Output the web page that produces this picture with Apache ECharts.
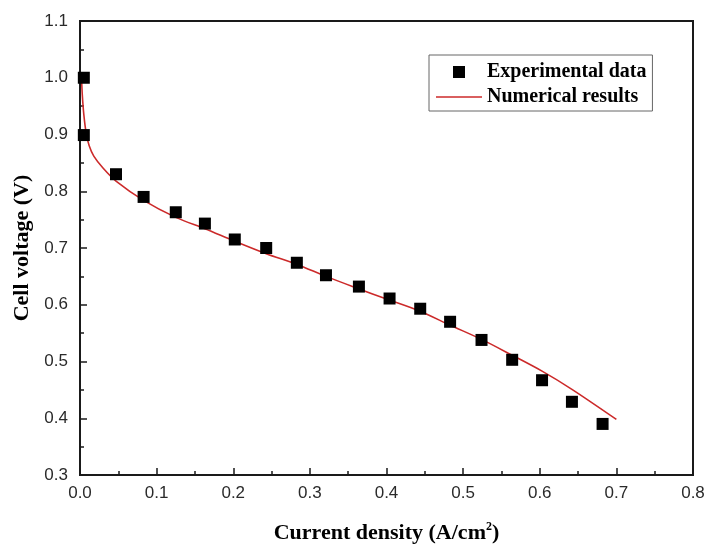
<!DOCTYPE html>
<html>
<head>
<meta charset="utf-8">
<script src="https://cdn.jsdelivr.net/npm/echarts@6/dist/echarts.min.js"></script>
<style>
  html, body { margin: 0; padding: 0; background: #fff; }
  #chart { width: 705px; height: 548px; }
</style>
</head>
<body>
<div id="chart"></div>
<script>
// Polarization curve: measured cell voltage vs. model prediction
const expCurrent = [0.005, 0.005, 0.047, 0.083, 0.125, 0.163, 0.202, 0.243, 0.283, 0.321, 0.364, 0.404, 0.444, 0.483, 0.524, 0.564, 0.603, 0.642, 0.682];
const expVoltage = [1.000, 0.899, 0.830, 0.790, 0.763, 0.743, 0.715, 0.700, 0.674, 0.652, 0.632, 0.611, 0.593, 0.570, 0.538, 0.503, 0.467, 0.429, 0.390];

const numCurrent = [0.002, 0.003, 0.005, 0.008, 0.012, 0.018, 0.030, 0.047, 0.083, 0.125, 0.163, 0.202, 0.243, 0.283, 0.321, 0.360, 0.400, 0.443, 0.483, 0.524, 0.564, 0.603, 0.642, 0.700];
const numVoltage = [1.000, 0.970, 0.935, 0.903, 0.880, 0.862, 0.841, 0.818, 0.784, 0.754, 0.734, 0.712, 0.690, 0.671, 0.650, 0.630, 0.610, 0.589, 0.564, 0.539, 0.511, 0.483, 0.451, 0.398];

const seriesNames = ['Experimental data', 'Numerical results'];

const expPairs = expCurrent.map((x, i) => [x, expVoltage[i]]);
const numPairs = numCurrent.map((x, i) => [x, numVoltage[i]]);

const sansFont = '"Liberation Sans", Arial, sans-serif';
const serifFont = '"Liberation Serif", "Times New Roman", serif';
const axisColor = '#1a1a1a';
const curveColor = '#cc2a2a';

const chart = echarts.init(document.getElementById('chart'), null, { renderer: 'canvas' });

chart.setOption({
  animation: false,
  backgroundColor: '#fff',
  grid: {
    left: 80, right: 12, top: 21, bottom: 73,
    outerBoundsMode: 'none',
    show: true, borderColor: axisColor, borderWidth: 2, backgroundColor: 'transparent'
  },
  legend: {
    orient: 'vertical',
    left: 429, top: 55,
    padding: [7, 6, 4, 7],
    itemGap: 5,
    itemWidth: 46, itemHeight: 12,
    borderColor: '#666', borderWidth: 1,
    symbolKeepAspect: true,
    textStyle: { fontFamily: serifFont, fontWeight: 'bold', fontSize: 20, color: '#000' },
    data: [
      { name: seriesNames[0], icon: 'path://M0,0L10,0L10,10L0,10Z' },
      { name: seriesNames[1], icon: 'path://M0,0L46,0L46,1.7L0,1.7Z' }
    ]
  },
  xAxis: {
    type: 'value',
    min: 0, max: 0.8, interval: 0.1,
    name: 'Current density (A/cm{sup|2})',
    nameLocation: 'middle',
    nameGap: 46,
    nameTextStyle: {
      fontFamily: serifFont, fontWeight: 'bold', fontSize: 22, color: '#000',
      rich: { sup: { fontFamily: serifFont, fontWeight: 'bold', fontSize: 12, color: '#000', verticalAlign: 'top', padding: [0, 0, 12, 0] } }
    },
    axisLine: { show: true, lineStyle: { color: axisColor, width: 2 } },
    axisTick: { show: true, inside: true, length: 7, lineStyle: { color: axisColor, width: 1.5 } },
    minorTick: { show: true, splitNumber: 2, length: 4, lineStyle: { color: axisColor, width: 1.5 } },
    splitLine: { show: false },
    axisLabel: {
      margin: 10, fontFamily: sansFont, fontSize: 17, color: '#2a2a2a',
      formatter: v => v.toFixed(1)
    }
  },
  yAxis: {
    type: 'value',
    min: 0.3, max: 1.1, interval: 0.1,
    name: 'Cell voltage (V)',
    nameLocation: 'middle',
    nameGap: 42,
    nameTextStyle: { fontFamily: serifFont, fontWeight: 'bold', fontSize: 22, color: '#000' },
    axisLine: { show: true, lineStyle: { color: axisColor, width: 2 } },
    axisTick: { show: true, inside: true, length: 7, lineStyle: { color: axisColor, width: 1.5 } },
    minorTick: { show: true, splitNumber: 2, length: 4, lineStyle: { color: axisColor, width: 1.5 } },
    splitLine: { show: false },
    axisLabel: {
      margin: 12, fontFamily: sansFont, fontSize: 17, color: '#2a2a2a',
      formatter: v => v.toFixed(1)
    }
  },
  series: [
    {
      name: seriesNames[0],
      type: 'scatter',
      symbol: 'rect',
      symbolSize: 12,
      itemStyle: { color: '#000', opacity: 1 },
      data: expPairs,
      z: 3
    },
    {
      name: seriesNames[1],
      type: 'line',
      smooth: 0.3,
      showSymbol: false,
      symbol: 'none',
      lineStyle: { color: curveColor, width: 1.6 },
      itemStyle: { color: curveColor },
      data: numPairs,
      z: 2
    }
  ]
});
</script>
</body>
</html>
